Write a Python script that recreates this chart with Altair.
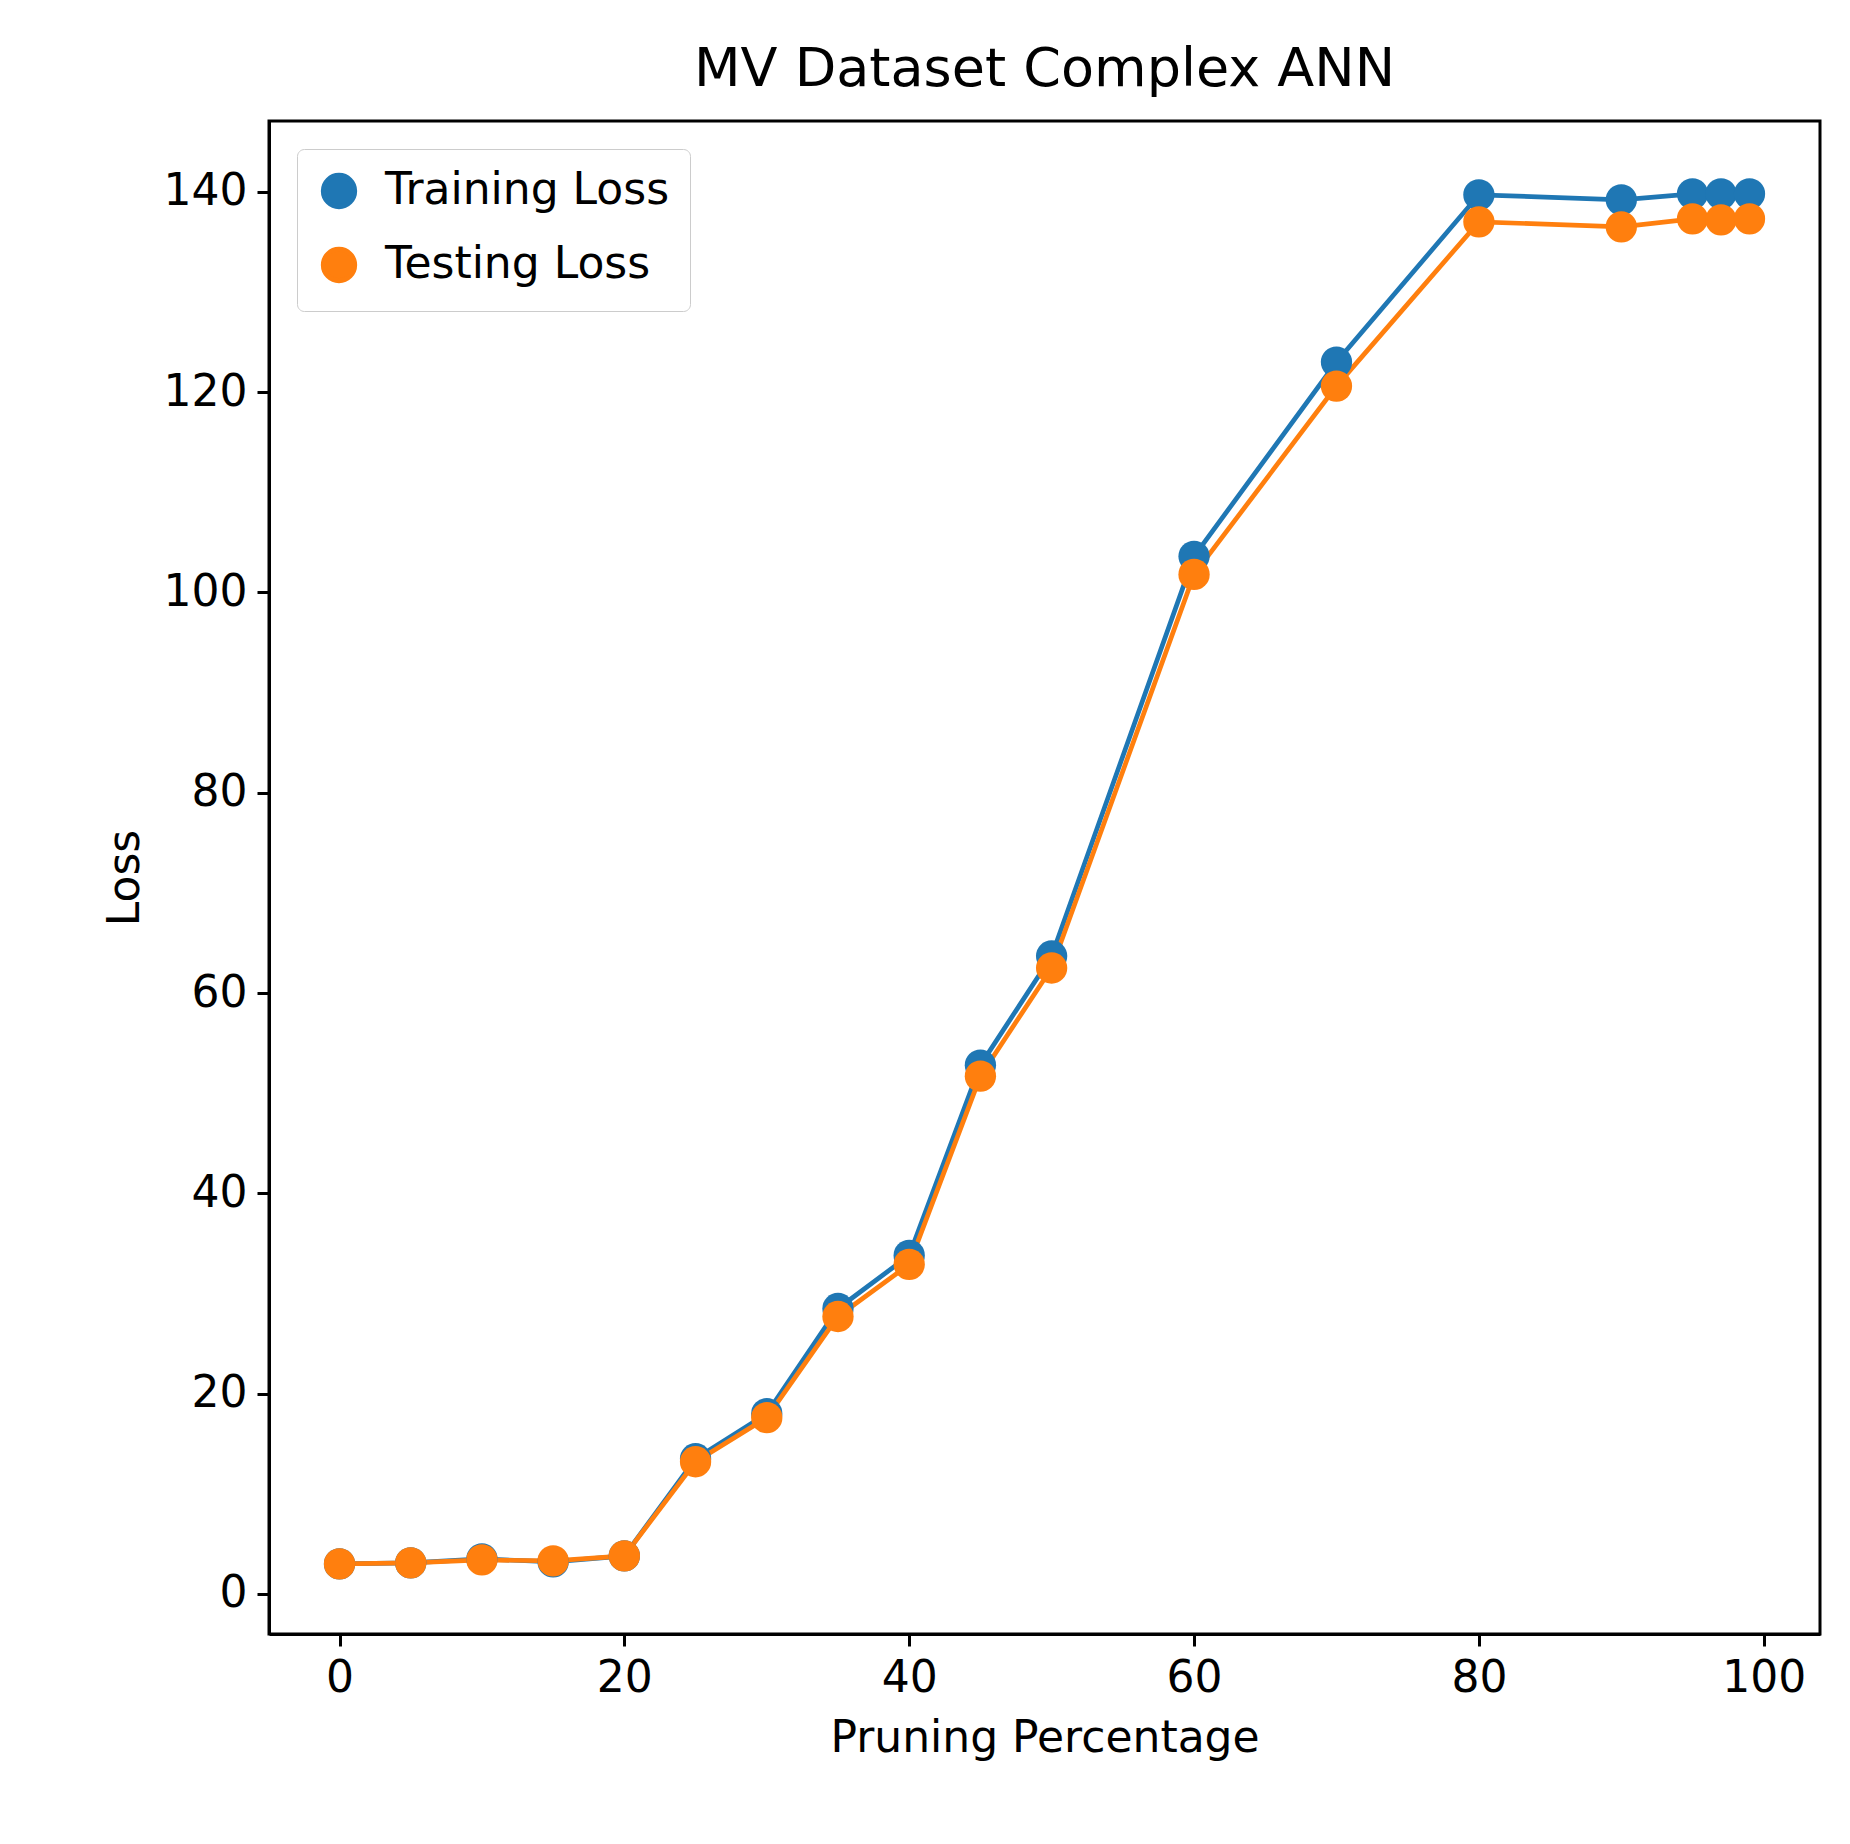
import altair as alt
import pandas as pd

pruning = [0, 5, 10, 15, 20, 25, 30, 35, 40, 45, 50, 60, 70, 80, 90, 95, 97, 99]
train_loss = [3.0, 3.1, 3.5, 3.2, 3.8, 13.5, 18.0, 28.5, 33.8, 52.8, 63.7, 103.6, 123.0, 139.7, 139.2, 139.8, 139.8, 139.8]
test_loss = [3.0, 3.1, 3.4, 3.3, 3.8, 13.2, 17.6, 27.7, 32.9, 51.7, 62.5, 101.8, 120.6, 137.0, 136.5, 137.3, 137.2, 137.3]

df = pd.concat([
    pd.DataFrame({'pct': pruning, 'loss': train_loss, 'series': 'Training Loss'}),
    pd.DataFrame({'pct': pruning, 'loss': test_loss, 'series': 'Testing Loss'}),
])

order = ['Training Loss', 'Testing Loss']
color = alt.Color('series:N', sort=order,
                  scale=alt.Scale(domain=order, range=['#1f77b4', '#ff7f0e']),
                  legend=alt.Legend(title=None, orient='none', legendX=28, legendY=28,
                                    labelFontSize=44, symbolSize=980, symbolStrokeWidth=5,
                                    symbolType='circle', rowPadding=22, padding=20,
                                    labelOffset=24, labelLimit=1000,
                                    fillColor='white', strokeColor='#cccccc',
                                    cornerRadius=7, labelFont='DejaVu Sans'))

x = alt.X('pct:Q', title='Pruning Percentage',
          scale=alt.Scale(domain=[-4.95, 103.95], nice=False, zero=False),
          axis=alt.Axis(values=[0, 20, 40, 60, 80, 100], grid=False))
y = alt.Y('loss:Q', title='Loss',
          scale=alt.Scale(domain=[-4.0, 147.07], nice=False, zero=False),
          axis=alt.Axis(values=[0, 20, 40, 60, 80, 100, 120, 140], grid=False))

base = alt.Chart(df).encode(x=x, y=y, color=color, detail='series:N')
lines = base.mark_line(strokeWidth=4.7)
points = base.mark_circle(size=980, opacity=1)

chart = alt.layer(lines, points).properties(
    width=1551, height=1513,
    padding={"left": 95, "top": 35, "right": 5, "bottom": 5},
    title=alt.TitleParams('MV Dataset Complex ANN', fontSize=54, fontWeight='normal',
                          font='DejaVu Sans', offset=24),
).configure_view(stroke='black', strokeWidth=3).configure_axis(
    labelFontSize=44, titleFontSize=44, labelFont='DejaVu Sans', titleFont='DejaVu Sans',
    titleFontWeight='normal', labelColor='black', titleColor='black',
    domainColor='black', tickColor='black', tickSize=12, tickWidth=3, domainWidth=3,
    labelPadding=10, titlePadding=16,
)

chart.save("out.html", embed_options={"renderer": "svg", "actions": False})
